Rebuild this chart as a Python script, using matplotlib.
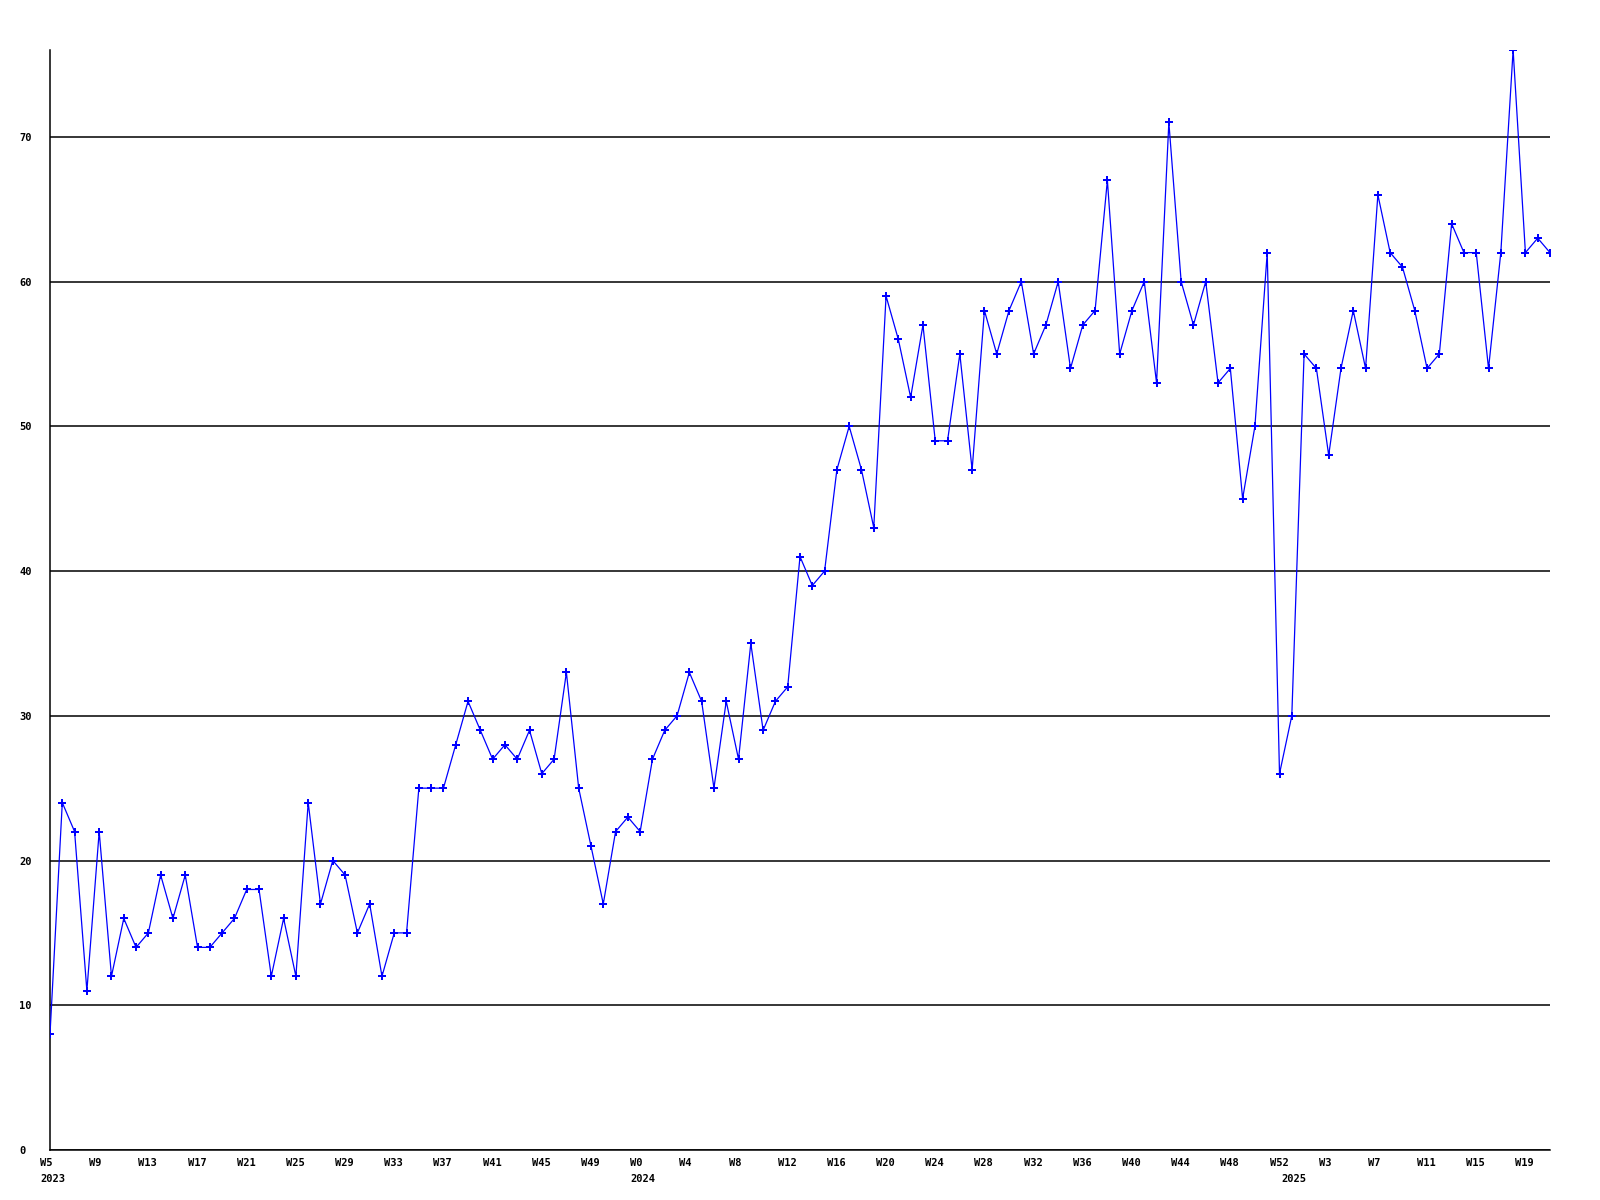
import matplotlib
matplotlib.use('Agg')
import matplotlib.pyplot as plt
from matplotlib.transforms import ScaledTranslation

# weeks shown per year
years = [2023, 2024, 2025]
first_week = [5, 0, 0]
last_week = [52, 52, 21]

# weekly counts
values_2023 = [8, 24, 22, 11, 22, 12, 16, 14, 15, 19, 16, 19, 14, 14, 15, 16,
               18, 18, 12, 16, 12, 24, 17, 20, 19, 15, 17, 12, 15, 15, 25, 25,
               25, 28, 31, 29, 27, 28, 27, 29, 26, 27, 33, 25, 21, 17, 22, 23]
values_2024 = [22, 27, 29, 30, 33, 31, 25, 31, 27, 35, 29, 31, 32, 41, 39, 40,
               47, 50, 47, 43, 59, 56, 52, 57, 49, 49, 55, 47, 58, 55, 58, 60,
               55, 57, 60, 54, 57, 58, 67, 55, 58, 60, 53, 71, 60, 57, 60, 53,
               54, 45, 50, 62, 26]
values_2025 = [30, 55, 54, 48, 54, 58, 54, 66, 62, 61, 58, 54, 55, 64, 62, 62,
               54, 62, 76, 62, 63, 62]

values = values_2023 + values_2024 + values_2025

weeks = []
week_year = []
for y, a, b in zip(years, first_week, last_week):
    for w in range(a, b + 1):
        weeks.append(w)
        week_year.append(y)

x = list(range(len(values)))

fig = plt.figure(figsize=(16, 12), dpi=100)
ax = fig.add_axes([50/1600, 50/1200, 1500/1600, 1100/1200])

ax.plot(x, values, color='#0000ff', lw=0.9, marker='P', ms=5.5,
        markeredgewidth=0, zorder=3)

ax.set_xlim(0, len(values) - 1)
ax.set_ylim(0, 76)

ax.set_yticks(range(0, 80, 10))
ax.yaxis.grid(True, color='black', lw=1.1)
ax.set_axisbelow(True)

# week labels every 4th point, year labels under the first week of each year
ax.xaxis.remove_overlapping_locs = False
week_pos = [i for i in x if i % 4 == 0]
ax.set_xticks(week_pos)
ax.set_xticklabels(['W%d' % weeks[i] for i in week_pos])
year_pos = [i for i in x if i == 0 or week_year[i] != week_year[i - 1]]
ax.set_xticks(year_pos, minor=True)
ax.set_xticklabels([str(week_year[i]) for i in year_pos], minor=True)

ax.tick_params(which='both', length=0)
ax.tick_params(axis='x', which='major', pad=6)
ax.tick_params(axis='x', which='minor', pad=17)
ax.tick_params(axis='y', pad=22)

shift = ScaledTranslation(-10/100, 0, fig.dpi_scale_trans)
for lab in ax.get_xticklabels() + ax.get_xticklabels(minor=True):
    lab.set_fontfamily('DejaVu Sans Mono')
    lab.set_fontweight('bold')
    lab.set_fontsize(7.5)
    lab.set_ha('left')
    lab.set_transform(lab.get_transform() + shift)
for lab in ax.get_yticklabels():
    lab.set_fontfamily('DejaVu Sans Mono')
    lab.set_fontweight('bold')
    lab.set_fontsize(7.5)
    lab.set_ha('left')

for s in ['top', 'right']:
    ax.spines[s].set_visible(False)
ax.spines['left'].set_linewidth(1.1)
ax.spines['bottom'].set_linewidth(1.1)

fig.savefig('out.png', dpi=100)
